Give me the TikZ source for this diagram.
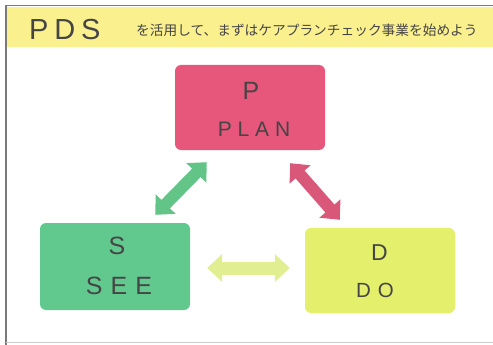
\documentclass[tikz,border=0pt]{standalone}
\usepackage{fontspec}
\setmainfont{Liberation Sans}
\newfontfamily\jpfont{Noto Sans CJK JP}
\usetikzlibrary{arrows.meta,calc}
\definecolor{bandyellow}{HTML}{FAF08E}
\definecolor{pbox}{HTML}{E6577B}
\definecolor{sbox}{HTML}{62C98E}
\definecolor{dbox}{HTML}{E4EF6C}
\definecolor{garrow}{HTML}{63C487}
\definecolor{rarrow}{HTML}{D9587A}
\definecolor{yarrow}{HTML}{E2EE92}
\definecolor{txt}{HTML}{454545}
\definecolor{framegray}{HTML}{7A7A7A}
\begin{document}
\begin{tikzpicture}[x=1pt,y=-1pt,
  box/.style={rounded corners=6pt, minimum width=150pt, inner sep=0pt},
  bigletter/.style={text=txt, inner sep=0pt, font=\fontsize{25}{25}\selectfont},
  word/.style={text=txt, inner sep=0pt},
  fatarrow/.style={line width=12pt, {Triangle[width=27pt,length=15pt]}-{Triangle[width=27pt,length=15pt]}}
]
\useasboundingbox (0,0) rectangle (493,345);
\fill[white] (0,0) rectangle (493,345);
% band
\fill[bandyellow] (7,7) rectangle (493,47);
% frame
\draw[framegray, line width=1.5pt] (493,5.5) -- (6,5.5) -- (6,345);
\draw[framegray!40, line width=0.8pt] (6,342) -- (493,342);
% title
\node[anchor=base west, text=txt, inner sep=0pt, font=\fontsize{29}{29}\selectfont\addfontfeatures{LetterSpace=20}] (title) at (29,40) {PDS};
\node[anchor=west, text=txt, inner sep=0pt, font=\jpfont\fontsize{13.7}{13.7}\selectfont] (subtitle) at (136,30) {を活用して、まずはケアプランチェック事業を始めよう};
% boxes
\node[box, fill=pbox, minimum height=85pt] (P) at (250,107.5) {};
\node[box, fill=sbox, minimum height=87pt] (S) at (115,266.5) {};
\node[box, fill=dbox, minimum height=85pt] (D) at (380,270.5) {};
% texts
\node[bigletter] (Pl) at ($(P.center)+(1,-16.5)$) {P};
\node[word, font=\fontsize{21}{21}\selectfont\addfontfeatures{LetterSpace=28}] (Pw) at ($(P.center)+(4,21.5)$) {PLAN};
\node[bigletter] (Sl) at ($(S.center)+(2,-20.5)$) {S};
\node[word, font=\fontsize{25}{25}\selectfont\addfontfeatures{LetterSpace=32}] (Sw) at ($(S.center)+(4,19)$) {SEE};
\node[bigletter, font=\fontsize{23}{23}\selectfont] (Dl) at ($(D.center)+(-0.5,-17.5)$) {D};
\node[word, font=\fontsize{20.5}{20.5}\selectfont\addfontfeatures{LetterSpace=33}] (Dw) at ($(D.center)+(-5,19.5)$) {DO};
% arrows
\draw[fatarrow, garrow] ($(P.south west)+(32,12)$) -- ($(S.north east)+(-35,-8)$);
\draw[fatarrow, rarrow] ($(P.south east)+(-35,13)$) -- ($(D.north west)+(35,-8)$);
\draw[fatarrow, yarrow, line width=13pt] ($(S.east)+(17,1.5)$) -- ($(D.west)+(-15,-2.5)$);
\end{tikzpicture}
\end{document}
